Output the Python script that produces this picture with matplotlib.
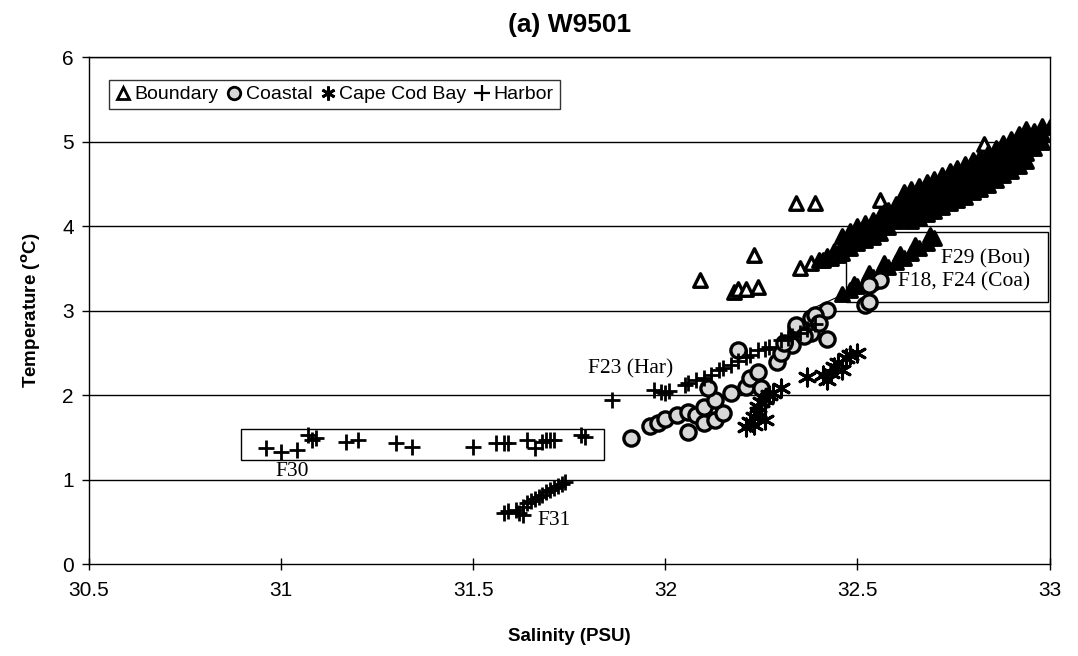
import numpy as np
import matplotlib
matplotlib.use("Agg")
import matplotlib.pyplot as plt
from matplotlib.patches import Rectangle
from matplotlib.lines import Line2D

plt.rcParams['font.family'] = ['Liberation Sans', 'DejaVu Sans']

# Boundary stations (triangles): scattered casts
bou_sal = [32.09, 32.23, 32.18, 32.19, 32.21, 32.24, 32.35, 32.34, 32.39, 32.56, 32.57, 32.83,
           32.38, 32.41, 32.43, 32.45]
bou_temp = [3.36, 3.66, 3.22, 3.26, 3.25, 3.28, 3.50, 4.27, 4.27, 4.31, 4.17, 4.97,
            3.56, 3.60, 3.62, 3.66]

# Boundary main band (dense, read as rows across the band)
band_sal = [32.40, 32.42, 32.44, 32.46, 32.48, 32.50, 32.52, 32.54, 32.56, 32.58, 32.60,
            32.62, 32.64, 32.66, 32.68, 32.70, 32.72, 32.74, 32.76, 32.78, 32.80, 32.82,
            32.84, 32.86, 32.88, 32.90, 32.92, 32.94, 32.96, 32.98, 33.00,
            32.46, 32.48, 32.50, 32.52, 32.54, 32.56, 32.58, 32.60, 32.62, 32.64, 32.66,
            32.68, 32.70, 32.72, 32.74, 32.76, 32.78, 32.80, 32.82, 32.84, 32.86, 32.88,
            32.90, 32.92, 32.94, 32.96, 32.98,
            32.46, 32.48, 32.50, 32.52, 32.54, 32.56, 32.58, 32.60, 32.62, 32.64, 32.66,
            32.68, 32.70, 32.72, 32.74, 32.76, 32.78, 32.80, 32.82, 32.84, 32.86, 32.88,
            32.90, 32.92, 32.94, 32.96, 32.98,
            32.62, 32.64, 32.66, 32.68, 32.70, 32.72, 32.74, 32.76, 32.78, 32.80, 32.82,
            32.84, 32.86, 32.88, 32.90, 32.92, 32.94,
            32.64, 32.66, 32.68, 32.70, 32.72, 32.74, 32.76, 32.78, 32.80, 32.82, 32.84,
            32.86, 32.88, 32.90, 32.92, 32.94]
band_temp = [3.60, 3.65, 3.71, 3.78, 3.84, 3.90, 3.94, 3.97, 4.02, 4.09, 4.16,
             4.21, 4.25, 4.29, 4.33, 4.37, 4.42, 4.46, 4.50, 4.54, 4.59, 4.63,
             4.68, 4.73, 4.79, 4.84, 4.90, 4.96, 5.02, 5.09, 5.17,
             3.88, 3.94, 4.00, 4.04, 4.07, 4.12, 4.19, 4.26, 4.31, 4.35, 4.39,
             4.43, 4.47, 4.52, 4.56, 4.60, 4.64, 4.69, 4.73, 4.78, 4.83, 4.89,
             4.94, 5.00, 5.06, 5.12, 5.18,
             3.68, 3.74, 3.80, 3.84, 3.87, 3.92, 3.99, 4.06, 4.11, 4.15, 4.19,
             4.23, 4.27, 4.32, 4.36, 4.40, 4.44, 4.49, 4.53, 4.58, 4.63, 4.69,
             4.74, 4.80, 4.86, 4.92, 4.99,
             4.40, 4.44, 4.48, 4.52, 4.56, 4.61, 4.65, 4.69, 4.73, 4.78, 4.82,
             4.87, 4.92, 4.98, 5.03, 5.09, 5.15,
             4.06, 4.10, 4.14, 4.18, 4.23, 4.27, 4.31, 4.35, 4.40, 4.44, 4.49,
             4.54, 4.60, 4.65, 4.71, 4.77]

# F29 boundary station (lower band)
f29_sal = [32.46, 32.48, 32.50, 32.52, 32.54, 32.56, 32.58, 32.60, 32.62, 32.64, 32.66,
           32.68, 32.70, 32.49, 32.53, 32.57, 32.61, 32.65, 32.69]
f29_temp = [3.20, 3.24, 3.29, 3.34, 3.40, 3.46, 3.52, 3.57, 3.62, 3.68, 3.74,
            3.80, 3.86, 3.32, 3.44, 3.56, 3.67, 3.78, 3.90]

# Coastal stations (circles)
coa_sal = [31.91, 31.96, 31.98, 32.00, 32.03, 32.06, 32.08, 32.06, 32.10, 32.13, 32.15, 32.10,
           32.13, 32.17, 32.21, 32.22, 32.24, 32.25, 32.11, 32.19, 32.29, 32.33, 32.34, 32.38,
           32.42, 32.42, 32.30, 32.38, 32.52, 32.39, 32.34, 32.53, 32.54, 32.56, 32.53, 32.36,
           32.31, 32.40]
coa_temp = [1.49, 1.64, 1.67, 1.72, 1.76, 1.80, 1.76, 1.56, 1.67, 1.70, 1.79, 1.86,
            1.94, 2.02, 2.10, 2.20, 2.27, 2.08, 2.08, 2.53, 2.39, 2.59, 2.79, 2.91,
            3.01, 2.67, 2.50, 2.73, 3.07, 2.95, 2.83, 3.10, 3.34, 3.36, 3.30, 2.70,
            2.62, 2.85]

# Cape Cod Bay stations (asterisks)
ccb_sal = [32.37, 32.41, 32.43, 32.44, 32.45, 32.47, 32.48, 32.50, 32.42, 32.46,
           32.21, 32.22, 32.23, 32.24, 32.24, 32.25, 32.26, 32.27, 32.28, 32.30, 32.26, 32.23]
ccb_temp = [2.21, 2.24, 2.26, 2.33, 2.38, 2.44, 2.47, 2.50, 2.18, 2.30,
            1.62, 1.68, 1.74, 1.80, 1.86, 1.92, 1.96, 2.00, 2.02, 2.08, 1.70, 1.65]

# Harbor stations (plus signs)
har_sal = [30.96, 31.00, 31.04, 31.07, 31.08, 31.09, 31.17, 31.20, 31.30, 31.34, 31.50, 31.56,
           31.58, 31.59, 31.64, 31.66, 31.68, 31.69, 31.70, 31.71, 31.78, 31.79,
           31.58, 31.59, 31.61, 31.62, 31.63, 31.63, 31.64, 31.65, 31.66, 31.67, 31.68, 31.69,
           31.70, 31.71, 31.72, 31.73, 31.74,
           31.86, 31.97, 31.99, 32.00, 32.01, 32.05, 32.06, 32.08, 32.10, 32.12, 32.14, 32.15,
           32.17, 32.19, 32.21, 32.22, 32.24, 32.26, 32.27, 32.30, 32.32,
           32.33, 32.35, 32.37, 32.39]
har_temp = [1.37, 1.33, 1.35, 1.53, 1.47, 1.49, 1.44, 1.47, 1.43, 1.39, 1.39, 1.43,
            1.43, 1.43, 1.47, 1.37, 1.44, 1.47, 1.47, 1.47, 1.53, 1.50,
            0.60, 0.63, 0.64, 0.60, 0.58, 0.68, 0.72, 0.75, 0.77, 0.80, 0.82, 0.85,
            0.88, 0.90, 0.92, 0.95, 0.97,
            1.94, 2.06, 2.04, 2.02, 2.05, 2.12, 2.14, 2.18, 2.20, 2.24, 2.30, 2.32,
            2.36, 2.40, 2.45, 2.48, 2.53, 2.55, 2.57, 2.65, 2.68,
            2.70, 2.74, 2.78, 2.84]

# thin connecting line near F18/F24
lead_sal = [32.39, 32.54]
lead_temp = [3.04, 3.35]

fig = plt.figure(figsize=(10.78, 6.56), dpi=100)
ax = fig.add_axes([0.0826, 0.140, 0.891, 0.773])

for yv in range(1, 7):
    ax.axhline(yv, color='black', lw=1.0, zorder=1)

ax.plot(lead_sal, lead_temp, color='black', lw=0.8, zorder=2)

# annotation boxes (behind the marks)
ax.add_patch(Rectangle((30.895, 1.23), 0.945, 0.37, fill=False, ec='black', lw=1.0, zorder=2))
ax.add_patch(Rectangle((32.47, 3.10), 0.525, 0.83, fill=True, fc='white', ec='black',
                       lw=1.0, zorder=2))

tri = dict(marker='^', s=95, edgecolors='black', linewidths=2.4, zorder=3)
ax.scatter(bou_sal, bou_temp, facecolors='white', **tri)
# the dense casts overlap into a solid black mass
ax.scatter(band_sal, band_temp, facecolors='black', **tri)
ax.scatter(f29_sal, f29_temp, facecolors='black', **tri)
ax.scatter(coa_sal, coa_temp, marker='o', s=120, facecolors='#d8d8d8', edgecolors='black',
           linewidths=2.4, zorder=4)
ax.scatter(ccb_sal, ccb_temp, marker=(6, 2, 0), s=150, color='black', linewidths=2.2, zorder=4)
ax.scatter(har_sal, har_temp, marker='+', s=125, color='black', linewidths=2.0, zorder=4)

serif = dict(family=['Liberation Serif', 'DejaVu Serif'], fontsize=15.5)
ax.text(31.03, 1.10, 'F30', ha='center', va='center', **serif)
ax.text(31.71, 0.52, 'F31', ha='center', va='center', **serif)
ax.text(31.91, 2.31, 'F23 (Har)', ha='center', va='center', **serif)
ax.text(32.95, 3.61, 'F29 (Bou)', ha='right', va='center', zorder=5, **serif)
ax.text(32.95, 3.34, 'F18, F24 (Coa)', ha='right', va='center', zorder=5, **serif)

ax.set_xlim(30.5, 33)
ax.set_ylim(0, 6)
ax.set_xticks([30.5, 31, 31.5, 32, 32.5, 33])
ax.set_xticklabels(['30.5', '31', '31.5', '32', '32.5', '33'])
ax.set_yticks(range(0, 7))
ax.tick_params(axis='x', direction='inout', length=8, width=1, labelsize=15, pad=8)
ax.tick_params(axis='y', direction='out', length=5, width=1, labelsize=15, pad=6)
for sp in ax.spines.values():
    sp.set_color('black')
    sp.set_linewidth(1.0)

ax.set_title('(a) W9501', fontsize=19, fontweight='bold', pad=18)
ax.set_xlabel('Salinity (PSU)', fontsize=13.5, fontweight='bold', labelpad=20)
ax.set_ylabel('Temperature ($\\mathbf{^o}$C)', fontsize=13.5, fontweight='bold', labelpad=14)

handles = [
    Line2D([], [], marker='^', ls='', ms=8, mfc='white', mec='black', mew=2),
    Line2D([], [], marker='o', ls='', ms=9, mfc='#d8d8d8', mec='black', mew=2),
    Line2D([], [], marker=(6, 2, 0), ls='', ms=10, color='black', mew=2),
    Line2D([], [], marker='+', ls='', ms=11, color='black', mew=1.6),
]
leg = ax.legend(handles, ['Boundary', 'Coastal', 'Cape Cod Bay', 'Harbor'], ncol=4,
                loc='upper left', bbox_to_anchor=(0.021, 0.955), borderaxespad=0,
                fontsize=14, frameon=True, fancybox=False, edgecolor='black',
                handlelength=0.8, handletextpad=0.2, columnspacing=0.4, borderpad=0.3)
leg.get_frame().set_linewidth(1.0)
leg.set_zorder(6)

fig.savefig('out.png', dpi=100)
